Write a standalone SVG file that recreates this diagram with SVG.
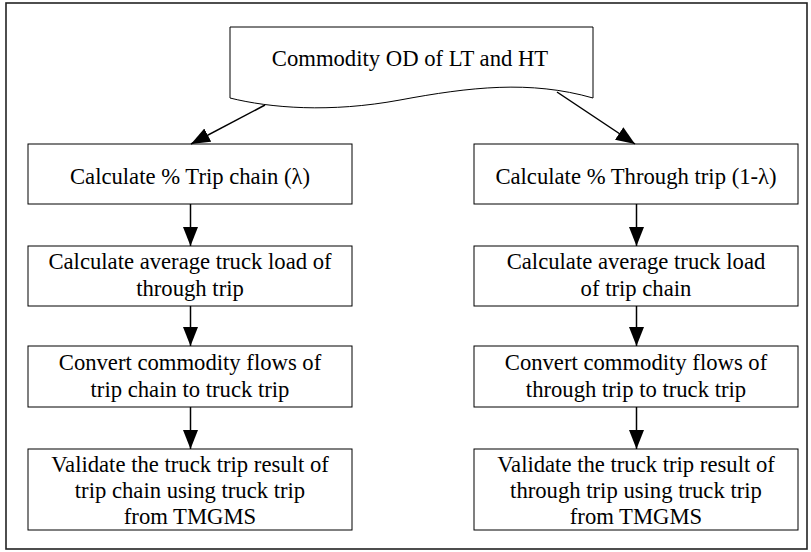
<svg xmlns="http://www.w3.org/2000/svg" width="811" height="552" viewBox="0 0 811 552">
  <defs>
    <style>
      .frame { fill: #ffffff; stroke: #222222; stroke-width: 1.6; }
      .box { fill: #ffffff; stroke: #000000; stroke-width: 1; }
      .label { font-family: "Liberation Serif", "Times New Roman", serif; font-size: 23.5px; fill: #000000; text-anchor: middle; }
      .edge { fill: none; stroke: #000000; stroke-width: 1.5; marker-end: url(#head); }
    </style>
    <marker id="head" markerUnits="userSpaceOnUse" markerWidth="20" markerHeight="16" refX="19" refY="7.5" orient="auto">
      <path d="M0,0 L19,7.5 L0,15 Z" fill="#000000"/>
    </marker>
  </defs>

  <rect width="811" height="552" fill="#ffffff"/>
  <!-- outer border -->
  <rect class="frame" x="6" y="3" width="801" height="546"/>

  <!-- source document -->
  <g id="commodity-od">
    <path class="box" d="M230,27 L593,27 L593,98 C530,80 470,87 400,100 C330,113 270,108 230,98 Z"/>
    <text class="label" transform="translate(410 66) scale(0.965 1)" x="0" y="0">Commodity OD of LT and HT</text>
  </g>

  <!-- left branch: trip chain -->
  <g id="pct-trip-chain">
    <rect class="box" x="28" y="144" width="324" height="60"/>
    <text class="label" transform="translate(190 184) scale(0.965 1)" x="0" y="0">Calculate % Trip chain (λ)</text>
  </g>
  <g id="load-through-trip">
    <rect class="box" x="28" y="246" width="324" height="60"/>
    <text class="label" transform="translate(190 269) scale(0.965 1)"><tspan x="0" y="0">Calculate average truck load of</tspan><tspan x="0" y="27">through trip</tspan></text>
  </g>
  <g id="convert-trip-chain">
    <rect class="box" x="28" y="346" width="324" height="61"/>
    <text class="label" transform="translate(190 370) scale(0.965 1)"><tspan x="0" y="0">Convert commodity flows of</tspan><tspan x="0" y="27">trip chain to truck trip</tspan></text>
  </g>
  <g id="validate-trip-chain">
    <rect class="box" x="28" y="449" width="324" height="81"/>
    <text class="label" transform="translate(190 472) scale(0.965 1)"><tspan x="0" y="0">Validate the truck trip result of</tspan><tspan x="0" y="26.2">trip chain using truck trip</tspan><tspan x="0" y="52.4">from TMGMS</tspan></text>
  </g>

  <!-- right branch: through trip -->
  <g id="pct-through-trip">
    <rect class="box" x="474" y="144" width="324" height="60"/>
    <text class="label" transform="translate(636 184) scale(0.965 1)" x="0" y="0">Calculate % Through trip (1-λ)</text>
  </g>
  <g id="load-trip-chain">
    <rect class="box" x="474" y="246" width="324" height="60"/>
    <text class="label" transform="translate(636 269) scale(0.965 1)"><tspan x="0" y="0">Calculate average truck load</tspan><tspan x="0" y="27">of trip chain</tspan></text>
  </g>
  <g id="convert-through-trip">
    <rect class="box" x="474" y="346" width="324" height="61"/>
    <text class="label" transform="translate(636 370) scale(0.965 1)"><tspan x="0" y="0">Convert commodity flows of</tspan><tspan x="0" y="27">through trip to truck trip</tspan></text>
  </g>
  <g id="validate-through-trip">
    <rect class="box" x="474" y="449" width="324" height="81"/>
    <text class="label" transform="translate(636 472) scale(0.965 1)"><tspan x="0" y="0">Validate the truck trip result of</tspan><tspan x="0" y="26.2">through trip using truck trip</tspan><tspan x="0" y="52.4">from TMGMS</tspan></text>
  </g>

  <!-- connectors -->
  <g id="connectors">
    <line class="edge" x1="265" y1="105" x2="191" y2="144"/>
    <line class="edge" x1="557" y1="92" x2="635" y2="144"/>
    <line class="edge" x1="190.5" y1="204" x2="190.5" y2="246"/>
    <line class="edge" x1="190.5" y1="306" x2="190.5" y2="346"/>
    <line class="edge" x1="190.5" y1="407" x2="190.5" y2="449"/>
    <line class="edge" x1="636.5" y1="204" x2="636.5" y2="246"/>
    <line class="edge" x1="636.5" y1="306" x2="636.5" y2="346"/>
    <line class="edge" x1="636.5" y1="407" x2="636.5" y2="449"/>
  </g>
</svg>
